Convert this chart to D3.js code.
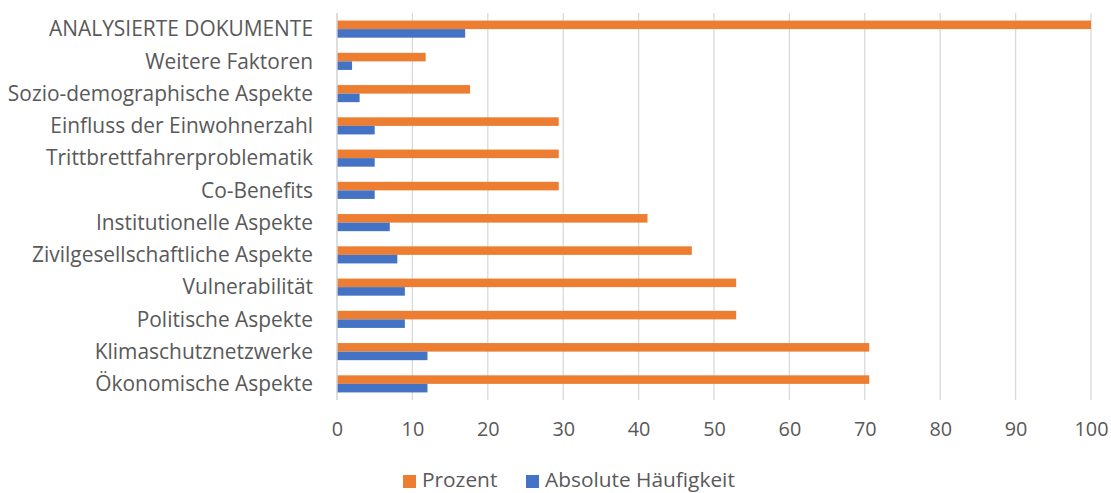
<!DOCTYPE html>
<html><head><meta charset="utf-8">
<script src="https://cdn.jsdelivr.net/npm/d3@7"></script>
<style>body{margin:0;background:#fff}svg{display:block}</style>
</head><body>
<script>
const categories = ["ANALYSIERTE DOKUMENTE","Weitere Faktoren","Sozio-demographische Aspekte","Einfluss der Einwohnerzahl","Trittbrettfahrerproblematik","Co-Benefits","Institutionelle Aspekte","Zivilgesellschaftliche Aspekte","Vulnerabilität","Politische Aspekte","Klimaschutznetzwerke","Ökonomische Aspekte"];
const prozent = [100, 11.76, 17.65, 29.41, 29.41, 29.41, 41.18, 47.06, 52.94, 52.94, 70.59, 70.59];
const absolut = [17, 2, 3, 5, 5, 5, 7, 8, 9, 9, 12, 12];
const seriesNames = ["Prozent", "Absolute Häufigkeit"];
const xTicks = [0,10,20,30,40,50,60,70,80,90,100];

const W = 1111, H = 493;
const colors = ["#ED7D31", "#4472C4"];
const font = "'Open Sans', sans-serif";
const svg = d3.select("body").append("svg").attr("width", W).attr("height", H);

function fitSize(text, target) {
  const t = svg.append("text").style("font-family", font).style("font-size", "20px").text(text);
  const w = t.node().getComputedTextLength();
  t.remove();
  return 20 * target / w;
}
const catSize = fitSize("ANALYSIERTE DOKUMENTE", 264);
const legSize = fitSize("Absolute Häufigkeit", 190);
const tickSize = fitSize("100", 34);

const x = d3.scaleLinear().domain([0, 100]).range([337, 1091]);
const y = d3.scaleBand().domain(categories).range([13, 400]).paddingInner(0.47).paddingOuter(0.235);
const sub = d3.scaleBand().domain(seriesNames).range([0, y.bandwidth()]);

// gridlines
svg.append("g").selectAll("line").data(xTicks).join("line")
  .attr("x1", d => x(d)).attr("x2", d => x(d))
  .attr("y1", 13).attr("y2", 400)
  .attr("stroke", "#d9d9d9").attr("stroke-width", 1.3);

// bars
const data = categories.map((c, i) => ({c, vals: [prozent[i], absolut[i]]}));
const g = svg.append("g");
data.forEach(d => {
  d.vals.forEach((v, j) => {
    g.append("rect")
      .attr("x", x(0)).attr("y", y(d.c) + sub(seriesNames[j]))
      .attr("width", x(v) - x(0)).attr("height", sub.bandwidth())
      .attr("fill", colors[j]);
  });
});

// axis line (vertical)
svg.append("line").attr("x1", x(0)).attr("x2", x(0)).attr("y1", 13).attr("y2", 400)
  .attr("stroke", "#d9d9d9").attr("stroke-width", 1.3);

// category labels
const yAxis = d3.axisLeft(y).tickSize(0).tickPadding(0);
const ya = svg.append("g").attr("transform", `translate(${x(0) - 24},0)`).call(yAxis);
ya.select(".domain").remove();
ya.selectAll("text").attr("fill", "#595959").attr("dy", "0.35em").style("font-family", font).style("font-size", catSize + "px");

// x tick labels
const xAxis = d3.axisBottom(x).tickValues(xTicks).tickSize(0).tickPadding(0);
const xa = svg.append("g").attr("transform", `translate(0,422)`).call(xAxis);
xa.select(".domain").remove();
xa.selectAll("text").attr("fill", "#595959").style("font-family", font).style("font-size", tickSize + "px");

// legend
const legend = svg.append("g");
const lx = [403, 526];
seriesNames.forEach((s, j) => {
  legend.append("rect").attr("x", lx[j]).attr("y", 475).attr("width", 13).attr("height", 13).attr("fill", colors[j]);
  legend.append("text").attr("x", lx[j] + 19).attr("y", 487).text(s)
    .attr("fill", "#595959").style("font-family", font).style("font-size", legSize + "px");
});
</script>
</body></html>
